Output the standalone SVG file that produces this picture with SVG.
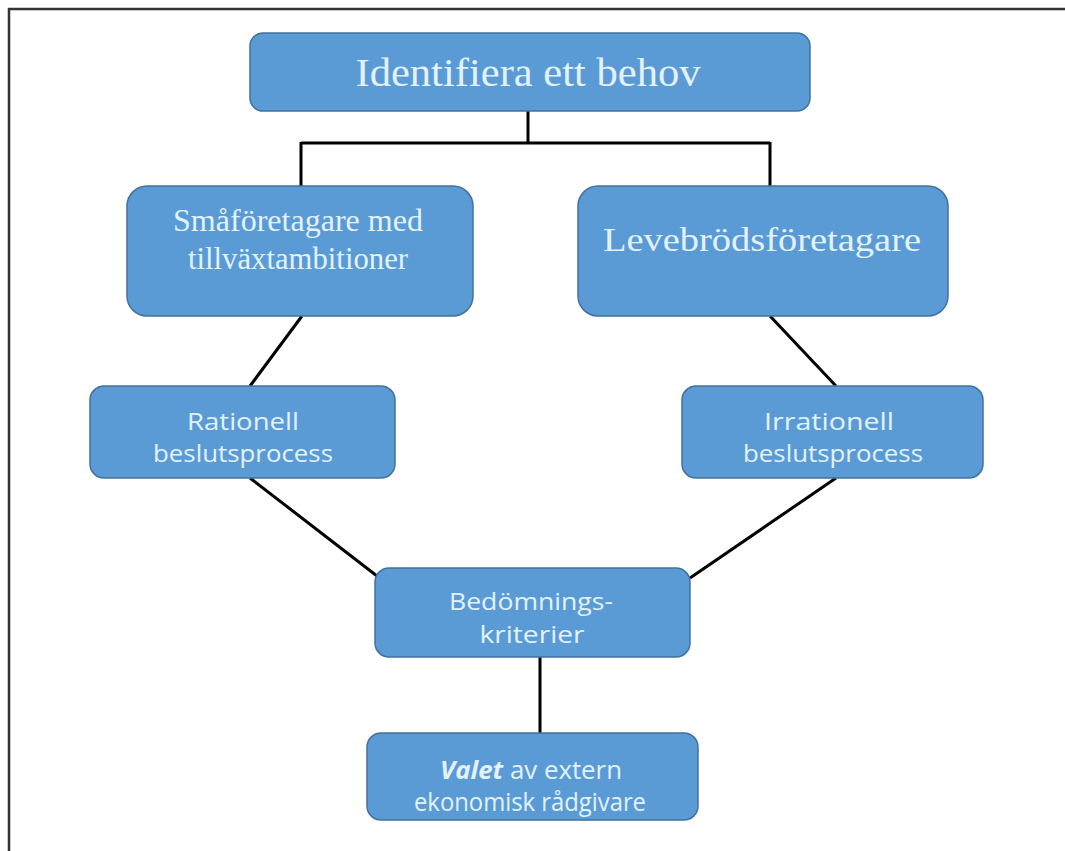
<svg xmlns="http://www.w3.org/2000/svg" width="1065" height="851" viewBox="0 0 1065 851">
<style>
.box{fill:#5B9BD5;stroke:#41719C;stroke-width:1.5}
.serif{font-family:"Liberation Serif","Times New Roman",serif;fill:#E2F2FF;text-anchor:middle}
.sans{font-family:"Open Sans",Lato,"Liberation Sans",sans-serif;fill:#E2F2FF;text-anchor:middle}
.con{stroke:#000;stroke-width:3;fill:none}
</style>
<rect width="1065" height="851" fill="#fff"/>
<path d="M9,851 V9 H1065" fill="none" stroke="#333" stroke-width="2.5"/>
<g id="connectors">
<path class="con" d="M528,111 V143 M301,143 H770 M301,142 V186 M770,142 V186"/>
<path class="con" d="M302,316 L250,386"/>
<path class="con" d="M770,316 L836,386"/>
<path class="con" d="M250,478 L377,576"/>
<path class="con" d="M836,478 L690,578"/>
<path class="con" d="M540,657 V733"/>
</g>
<g id="n1">
<rect class="box" x="250" y="33" width="560" height="78" rx="13"/>
<text class="serif" x="528" y="86" font-size="40" textLength="345" lengthAdjust="spacingAndGlyphs">Identifiera ett behov</text>
</g>
<g id="n2">
<rect class="box" x="127" y="186" width="346" height="130" rx="20"/>
<text class="serif" x="298" y="231" font-size="31" textLength="250" lengthAdjust="spacingAndGlyphs">Småföretagare med</text>
<text class="serif" x="298" y="269" font-size="31" textLength="220" lengthAdjust="spacingAndGlyphs">tillväxtambitioner</text>
</g>
<g id="n3">
<rect class="box" x="578" y="186" width="370" height="130" rx="20"/>
<text class="serif" x="762" y="251" font-size="34" textLength="318" lengthAdjust="spacingAndGlyphs">Levebrödsföretagare</text>
</g>
<g id="n4">
<rect class="box" x="90" y="386" width="305" height="92" rx="14"/>
<text class="sans" x="243" y="430" font-size="24" textLength="112" lengthAdjust="spacingAndGlyphs">Rationell</text>
<text class="sans" x="243" y="462" font-size="24" textLength="180" lengthAdjust="spacingAndGlyphs">beslutsprocess</text>
</g>
<g id="n5">
<rect class="box" x="682" y="386" width="301" height="92" rx="14"/>
<text class="sans" x="829" y="430" font-size="24" textLength="130" lengthAdjust="spacingAndGlyphs">Irrationell</text>
<text class="sans" x="833" y="462" font-size="24" textLength="180" lengthAdjust="spacingAndGlyphs">beslutsprocess</text>
</g>
<g id="n6">
<rect class="box" x="375" y="568" width="315" height="89" rx="14"/>
<text class="sans" x="531" y="610" font-size="23" textLength="164" lengthAdjust="spacingAndGlyphs">Bedömnings-</text>
<text class="sans" x="532" y="643" font-size="23" textLength="105" lengthAdjust="spacingAndGlyphs">kriterier</text>
</g>
<g id="n7">
<rect class="box" x="367" y="733" width="331" height="87" rx="14"/>
<text class="sans" x="531" y="779" font-size="25" textLength="182" lengthAdjust="spacingAndGlyphs"><tspan font-weight="bold" font-style="italic">Valet</tspan> av extern</text>
<text class="sans" x="530" y="811" font-size="25" textLength="232" lengthAdjust="spacingAndGlyphs">ekonomisk rådgivare</text>
</g>
</svg>
